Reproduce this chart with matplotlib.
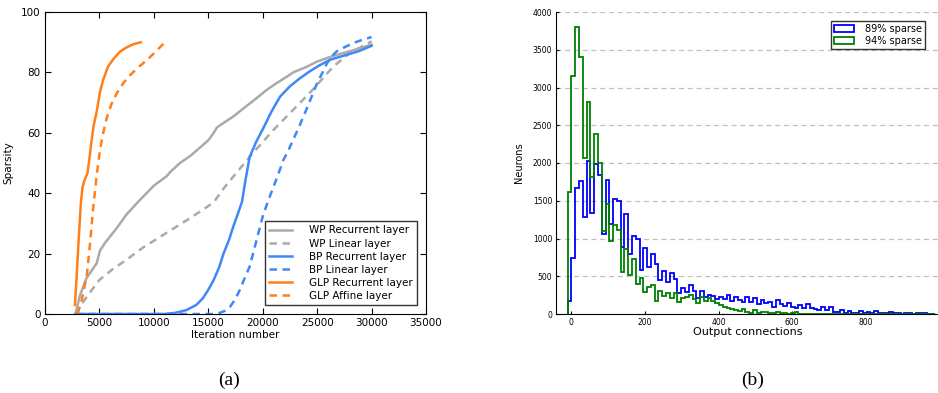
import numpy as np
import matplotlib
matplotlib.use('Agg')
import matplotlib.pyplot as plt
from matplotlib.patches import Patch

# (a) sparsity vs iteration
wp_rec_x = [2800, 3200, 3800, 4400, 4750, 5050, 5500, 6600, 7500, 8700, 10000, 11200, 11500,
            12400, 13400, 14200, 15000, 15500, 15800, 16500, 17300, 18200, 19100, 20400, 21300,
            22400, 22800, 24000, 25000, 26500, 28000, 30000]
wp_rec_y = [0, 6, 11.8, 15, 16.8, 21, 23.5, 28.5, 33, 37.7, 42.5, 45.7, 47, 50, 52.5, 55, 57.5,
            60, 61.8, 63.5, 65.4, 68, 70.5, 74.3, 76.5, 79, 80, 81.8, 83.6, 85.5, 87, 89.2]

wp_lin_x = [2800, 3200, 4000, 5000, 6200, 7500, 9000, 11000, 13000, 14500, 15500, 16500, 17300,
            19100, 21000, 22800, 24600, 26500, 28000, 30000]
wp_lin_y = [0, 2.4, 6.5, 11.3, 14.8, 18, 22, 26.5, 31, 34.5, 37, 42, 45.5, 53.3, 61, 67.6, 74.3,
            82, 86.4, 90.3]

bp_rec_x = [2800, 11000, 12000, 13000, 13900, 14500, 15000, 15500, 16000, 16400, 16900, 17300,
            17700, 18100, 18400, 18800, 19400, 20050, 20800, 21600, 22500, 23400, 24300, 25200,
            26200, 27500, 28800, 29200, 30000]
bp_rec_y = [0, 0, 0.4, 1.3, 3, 5.2, 8, 11.3, 15.5, 20, 24.5, 29, 33, 37.2, 44, 52, 57, 61.5, 67,
            72, 75.4, 78, 80.3, 82.3, 84.2, 85.6, 87, 87.6, 88.8]

bp_lin_x = [2800, 15500, 16000, 16500, 17000, 17500, 17900, 18300, 18800, 19400, 20000, 20500,
            21000, 21500, 21900, 22400, 22800, 23400, 24000, 24500, 25000, 25500, 25900, 26400,
            26800, 27500, 28300, 29000, 30000]
bp_lin_y = [0, 0, 0.3, 1, 2.4, 5, 8, 11.5, 15.7, 24, 32.3, 37.5, 42.2, 47, 51, 54.5, 57.7, 62.5,
            67.6, 72, 76.5, 80, 83, 85.5, 87, 88.3, 89.7, 90.6, 91.7]

glp_rec_x = [2750, 2900, 3100, 3300, 3450, 3600, 3900, 4100, 4300, 4450, 4750, 5050, 5350, 5800,
             6300, 6900, 7500, 8100, 8800]
glp_rec_y = [3, 12, 25, 37, 42, 44, 46.6, 52, 58, 62, 67, 73.5, 77.6, 82, 84.5, 86.9, 88.3, 89.3, 90]

glp_aff_x = [3000, 3400, 3830, 4100, 4440, 4750, 5050, 5350, 5660, 6100, 6580, 7200, 7800, 8500,
             9340, 10200, 11020]
glp_aff_y = [0, 5, 12.4, 22, 35.5, 46, 54.3, 60, 64.8, 69.5, 73, 76.5, 79, 81.5, 84, 87, 90]

# (b) histogram of output connections
bin_start = -9.0
bin_width = 10.26
counts_89 = [170, 740, 1665, 1755, 1280, 2020, 1335, 1985, 1838, 1065, 1780, 1192, 1523, 1497,
             892, 1325, 795, 1034, 990, 588, 880, 622, 800, 660, 455, 575, 420, 540, 470, 275,
             340, 296, 385, 300, 208, 309, 225, 252, 240, 200, 229, 194, 247, 172, 229, 185,
             163, 220, 163, 207, 132, 185, 141, 159, 97, 185, 132, 106, 150, 97, 75, 119, 75,
             128, 75, 62, 53, 88, 53, 97, 31, 31, 53, 18, 35, 18, 18, 44, 18, 26, 18, 35, 10,
             12, 8, 25, 10, 8, 5, 15, 10, 5, 15, 8, 12, 5, 3]
counts_94 = [1613, 3156, 3801, 3403, 2064, 2811, 1815, 2378, 1998, 1100, 1459, 963, 1180, 1114,
             560, 857, 520, 734, 398, 477, 292, 362, 385, 168, 305, 239, 283, 217, 274, 155,
             217, 230, 247, 194, 150, 221, 177, 207, 177, 141, 119, 88, 75, 62, 53, 44, 62, 31,
             18, 53, 18, 25, 20, 15, 10, 30, 8, 12, 5, 10, 20, 5, 3, 5, 2, 4, 0, 3, 0, 2, 0, 0,
             1, 0, 0, 0, 0, 0, 0, 0, 0, 0, 0, 0, 0, 0, 0, 0, 0, 0, 0, 0, 0, 0, 0, 0, 0]

gray = '#aaaaaa'
blue = '#3f88f5'
orange = '#ff7f1a'

fig = plt.figure(figsize=(9.38, 3.93), dpi=100)

ax1 = fig.add_axes([45/938, 79/393, 381/938, 302/393])
ax1.plot(wp_rec_x, wp_rec_y, color=gray, lw=1.8, label='WP Recurrent layer')
ax1.plot(wp_lin_x, wp_lin_y, color=gray, lw=1.8, ls=(0, (3, 2.2)), label='WP Linear layer')
ax1.plot(bp_rec_x, bp_rec_y, color=blue, lw=1.8, label='BP Recurrent layer')
ax1.plot(bp_lin_x, bp_lin_y, color=blue, lw=1.8, ls=(0, (3, 2.2)), label='BP Linear layer')
ax1.plot(glp_rec_x, glp_rec_y, color=orange, lw=1.8, label='GLP Recurrent layer')
ax1.plot(glp_aff_x, glp_aff_y, color=orange, lw=1.8, ls=(0, (3, 2.2)), label='GLP Affine layer')
ax1.set_xlim(0, 35000)
ax1.set_ylim(0, 100)
ax1.set_xticks(np.arange(0, 35001, 5000))
ax1.set_yticks(np.arange(0, 101, 20))
ax1.tick_params(direction='in', top=True, right=True, labelsize=7.5, length=4, pad=3)
ax1.set_xlabel('Iteration number', fontsize=7.5, labelpad=1)
ax1.set_ylabel('Sparsity', fontsize=7.5)
ax1.yaxis.set_label_coords(-32/381, 0.5)
leg1 = ax1.legend(loc='lower right', fontsize=7.5, fancybox=False, edgecolor='black',
                  handlelength=2.2, borderpad=0.4, labelspacing=0.3, handletextpad=1.6,
                  bbox_to_anchor=(0.99, 0.012))
leg1.get_frame().set_linewidth(1.0)

ax2 = fig.add_axes([556.25/938, 79/393, 383.5/938, 302/393])
edges = bin_start + bin_width * np.arange(len(counts_89) + 1)
ax2.yaxis.grid(True, ls=(0, (4, 3)), color='#c0c0c0', lw=0.9)
ax2.set_axisbelow(True)
ax2.stairs(counts_89, edges, color='blue', lw=1.3, baseline=0)
ax2.stairs(counts_94, edges, color='green', lw=1.3, baseline=0)
ax2.set_xlim(-40, 1000)
ax2.set_ylim(0, 4000)
ax2.set_xticks(np.arange(0, 801, 200))
ax2.set_yticks(np.arange(0, 4001, 500))
for s in ['top', 'right']:
    ax2.spines[s].set_visible(False)
ax2.tick_params(direction='in', labelsize=5.5, length=2, pad=3)
ax2.set_xlabel('Output connections', fontsize=8, labelpad=0)
ax2.set_ylabel('Neurons', fontsize=7, labelpad=6)
handles = [Patch(facecolor='none', edgecolor='blue', lw=1.3, label='89% sparse'),
           Patch(facecolor='none', edgecolor='green', lw=1.3, label='94% sparse')]
leg2 = ax2.legend(handles=handles, loc='upper right', fontsize=7, fancybox=False,
                  edgecolor='black', borderpad=0.3, labelspacing=0.2, handletextpad=1.2,
                  handlelength=2.0, bbox_to_anchor=(0.975, 0.987))
leg2.get_frame().set_linewidth(1.0)

fig.text(229/938, 13/393, '(a)', fontsize=14, family='Liberation Serif', ha='center', va='center')
fig.text(753/938, 13/393, '(b)', fontsize=14, family='Liberation Serif', ha='center', va='center')

fig.savefig('out.png', dpi=100)
